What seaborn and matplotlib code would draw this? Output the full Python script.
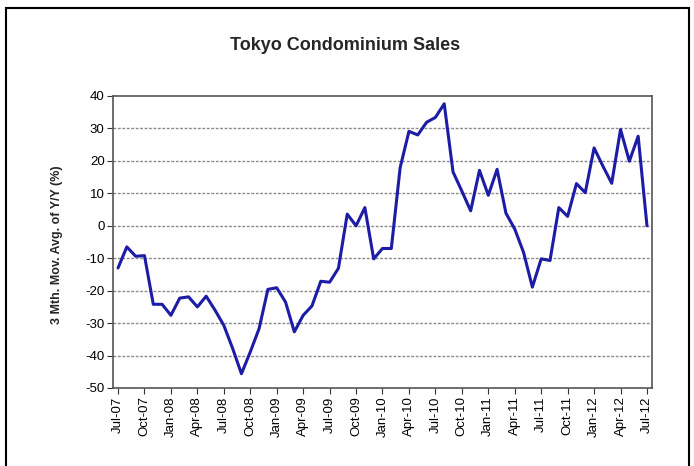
import matplotlib
matplotlib.use("Agg")
import matplotlib.pyplot as plt
import matplotlib.patches as mpatches
import numpy as np
import pandas as pd
import seaborn as sns

# Monthly 3-month moving average of year-on-year change, Jul-07 .. Jul-12
months = pd.date_range("2007-07-01", "2012-07-01", freq="MS")
yoy_3m_avg = [
    -13.0, -6.5, -9.4, -9.2, -24.2, -24.2, -27.6, -22.3, -21.9, -25.0,
    -21.7, -26.0, -30.7, -37.8, -45.6, -38.9, -31.7, -19.6, -19.1, -23.5,
    -32.7, -27.6, -24.7, -17.1, -17.4, -13.1, 3.6, 0.0, 5.6, -10.2,
    -7.0, -7.0, 17.9, 29.1, 28.0, 31.9, 33.4, 37.6, 16.6, 10.7,
    4.6, 17.1, 9.4, 17.4, 3.9, -1.0, -8.2, -18.9, -10.2, -10.7,
    5.6, 2.9, 13.0, 10.2, 24.0, 18.4, 13.1, 29.7, 19.9, 27.6,
    0.0,
]
tick_labels = ["Jul-07", "Oct-07", "Jan-08", "Apr-08", "Jul-08", "Oct-08", "Jan-09",
               "Apr-09", "Jul-09", "Oct-09", "Jan-10", "Apr-10", "Jul-10", "Oct-10",
               "Jan-11", "Apr-11", "Jul-11", "Oct-11", "Jan-12", "Apr-12", "Jul-12"]
y_ticks = [40, 30, 20, 10, 0, -10, -20, -30, -40, -50]

df = pd.DataFrame({"idx": np.arange(len(months)), "value": yoy_3m_avg})

sns.set_theme(style="white")
plt.rcParams["font.family"] = ["Liberation Sans", "DejaVu Sans"]

fig = plt.figure(figsize=(6.94, 4.66), dpi=100)
fig.patch.set_facecolor("white")

# outer frame around the whole chart
fig.patches.append(mpatches.Rectangle((6 / 694, -0.05), 683 / 694, 1 - 8 / 466 + 0.05,
                                      transform=fig.transFigure, fill=False,
                                      edgecolor="black", linewidth=1.5))

ax = fig.add_axes([113 / 694, 1 - 388 / 466, 539 / 694, 292 / 466])
sns.lineplot(data=df, x="idx", y="value", ax=ax, color="#1c1ca6", linewidth=2.2)

ax.set_xlim(-0.57, len(months) - 1 + 0.57)
ax.set_ylim(-50, 40)
ax.set_yticks(y_ticks)
ax.set_yticklabels([str(v) for v in y_ticks], fontsize=9.5)
ax.set_xticks(np.arange(0, len(months), 3))
ax.set_xticklabels(tick_labels, rotation=90, fontsize=9.5)

for v in y_ticks[1:-1]:
    ax.axhline(v, color="#8a8a8a", linewidth=1.0, linestyle=(0, (2, 1.2)), zorder=0)

for s in ax.spines.values():
    s.set_color("#555555")
    s.set_linewidth(1.2)

ax.tick_params(axis="both", which="both", direction="out", length=4, width=0.8,
               color="#333333", colors="black", pad=2)
ax.tick_params(axis="x", bottom=True)
ax.tick_params(axis="y", left=True)

ax.set_xlabel("")
ax.set_ylabel("3 Mth. Mov. Avg. of Y/Y (%)", fontsize=9, fontweight="bold")
ax.yaxis.set_label_coords(-0.093, 0.49)

fig.text(345 / 694, 1 - 46 / 466, "Tokyo Condominium Sales", ha="center", va="center",
         fontsize=13, fontweight="bold")

fig.savefig("out.png", dpi=100, facecolor="white")
